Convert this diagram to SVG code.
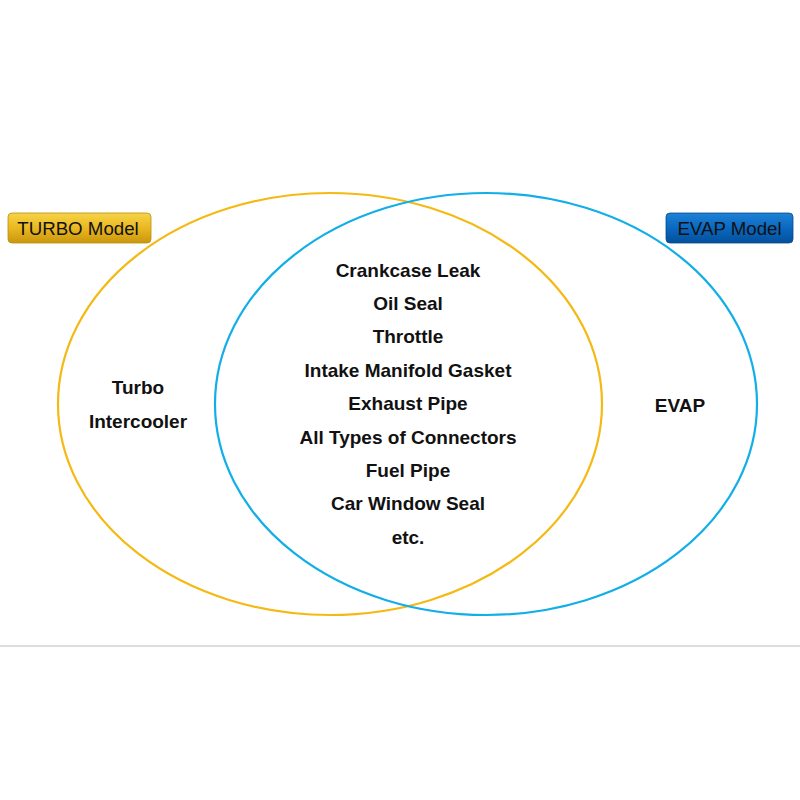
<svg xmlns="http://www.w3.org/2000/svg" width="800" height="800" viewBox="0 0 800 800">
<defs>
<linearGradient id="gold" x1="0" y1="0" x2="0" y2="1">
<stop offset="0" stop-color="#f7d34a"/>
<stop offset="0.5" stop-color="#eab820"/>
<stop offset="1" stop-color="#c9960e"/>
</linearGradient>
<linearGradient id="blue" x1="0" y1="0" x2="0" y2="1">
<stop offset="0" stop-color="#1e82d6"/>
<stop offset="0.5" stop-color="#0a68c0"/>
<stop offset="1" stop-color="#04509c"/>
</linearGradient>
<style>
.t{font-family:"Liberation Sans",Arial,sans-serif;font-weight:bold;font-size:19px;fill:#111;text-anchor:middle}
.lab{font-family:"Liberation Sans",Arial,sans-serif;font-size:18.7px;fill:#111;text-anchor:middle}
.ring{fill:none;stroke-width:2.2}
</style>
</defs>
<rect width="800" height="800" fill="#fff"/>
<line x1="0" y1="646" x2="800" y2="646" stroke="#d2d2d2" stroke-width="1.5"/>
<g id="turbo-set">
<ellipse class="ring" cx="330" cy="404" rx="272" ry="211" stroke="#f5b914"/>
<text class="t" x="138" y="394">Turbo</text>
<text class="t" x="138" y="428">Intercooler</text>
</g>
<g id="evap-set">
<ellipse class="ring" cx="486" cy="404" rx="271" ry="211" stroke="#12aee8"/>
<text class="t" x="680" y="412">EVAP</text>
</g>
<g id="common">
<text class="t" x="408" y="277">Crankcase Leak</text>
<text class="t" x="408" y="310">Oil Seal</text>
<text class="t" x="408" y="343">Throttle</text>
<text class="t" x="408" y="377">Intake Manifold Gasket</text>
<text class="t" x="408" y="410">Exhaust Pipe</text>
<text class="t" x="408" y="444">All Types of Connectors</text>
<text class="t" x="408" y="477">Fuel Pipe</text>
<text class="t" x="408" y="510">Car Window Seal</text>
<text class="t" x="408" y="544">etc.</text>
</g>
<g id="turbo-label">
<rect x="8" y="213" width="143" height="30" rx="4" fill="url(#gold)" stroke="#b8900c" stroke-width="0.8"/>
<text class="lab" x="78" y="235">TURBO Model</text>
</g>
<g id="evap-label">
<rect x="666" y="213" width="127" height="30" rx="4" fill="url(#blue)" stroke="#034a8e" stroke-width="0.8"/>
<text class="lab" x="729.5" y="235">EVAP Model</text>
</g>
<g id="connectors"/>
</svg>
